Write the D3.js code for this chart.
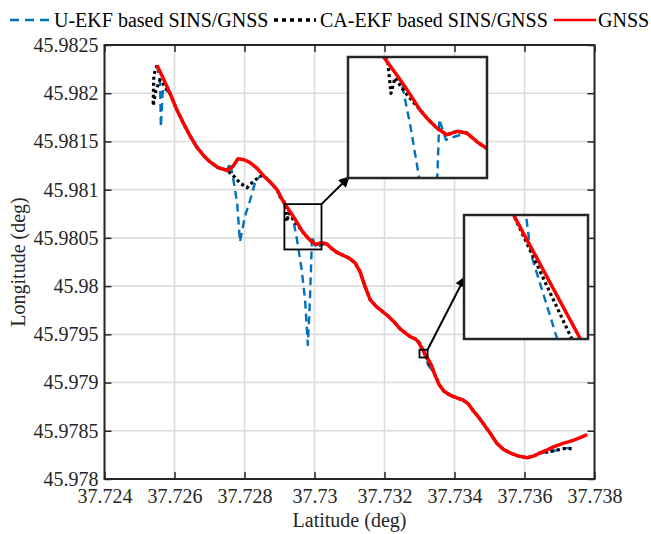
<!DOCTYPE html>
<html>
<head>
<meta charset="utf-8">
<script src="https://cdn.jsdelivr.net/npm/d3@7/dist/d3.min.js"></script>
<style>
  body { margin: 0; background: #fff; }
</style>
</head>
<body>
<div id="wrapper"></div>
<script>
// Valores dos eixos
const xTicks = [37.724, 37.726, 37.728, 37.73, 37.732, 37.734, 37.736, 37.738];
const xLabels = ["37.724", "37.726", "37.728", "37.73", "37.732", "37.734", "37.736", "37.738"];
const yTicks = [45.978, 45.9785, 45.979, 45.9795, 45.98, 45.9805, 45.981, 45.9815, 45.982, 45.9825];
const yLabels = ["45.978", "45.9785", "45.979", "45.9795", "45.98", "45.9805", "45.981", "45.9815", "45.982", "45.9825"];

// Trajetórias [latitude, longitude]
const gnss = [
  [37.72550, 45.98229], [37.72567, 45.98216], [37.72587, 45.98200], [37.72604, 45.98185], [37.72624, 45.98170],
  [37.72644, 45.98156], [37.72664, 45.98144], [37.72684, 45.98135], [37.72701, 45.98129], [37.72724, 45.98123],
  [37.72750, 45.98120], [37.72767, 45.98124], [37.72781, 45.98132], [37.72799, 45.98131], [37.72816, 45.98128],
  [37.72836, 45.98122], [37.72853, 45.98115], [37.72873, 45.98108], [37.72893, 45.98100], [37.72910, 45.98088],
  [37.72927, 45.98079], [37.72945, 45.98069], [37.72965, 45.98057], [37.72976, 45.98052], [37.72989, 45.98047],
  [37.73004, 45.98043], [37.73019, 45.98045], [37.73034, 45.98044], [37.73049, 45.98039], [37.73064, 45.98035],
  [37.73081, 45.98032], [37.73099, 45.98029], [37.73116, 45.98024], [37.73130, 45.98015], [37.73144, 45.98000],
  [37.73159, 45.97986], [37.73176, 45.97979], [37.73193, 45.97974], [37.73210, 45.97969], [37.73227, 45.97963],
  [37.73244, 45.97956], [37.73261, 45.97951], [37.73276, 45.97947], [37.73289, 45.97945], [37.732968, 45.97942],
  [37.733092, 45.97934], [37.733216, 45.97926], [37.73334, 45.97918], [37.73344, 45.97908], [37.73356, 45.97898],
  [37.73370, 45.97891], [37.73387, 45.97887], [37.73407, 45.97884], [37.73424, 45.97882], [37.73439, 45.97878],
  [37.73453, 45.97871], [37.73467, 45.97865], [37.73481, 45.97858], [37.73501, 45.97848], [37.73521, 45.97837],
  [37.73539, 45.97831], [37.73559, 45.97827], [37.73581, 45.97824], [37.73607, 45.97822], [37.73627, 45.97824],
  [37.73644, 45.97827], [37.73664, 45.97830], [37.73681, 45.97833], [37.73710, 45.97837], [37.73739, 45.97840],
  [37.73759, 45.97843], [37.73779, 45.97846]
];

const caEkf = [
  [37.72550, 45.98229], [37.72541, 45.98219], [37.72539, 45.98187], [37.72547, 45.98203], [37.72559, 45.98214],
  [37.72587, 45.98200], [37.72604, 45.98185], [37.72624, 45.98170], [37.72644, 45.98156], [37.72664, 45.98144],
  [37.72684, 45.98135], [37.72701, 45.98129], [37.72724, 45.98123], [37.72750, 45.98120], [37.72767, 45.98115],
  [37.72787, 45.98107], [37.72807, 45.98102], [37.72824, 45.98108], [37.72841, 45.98113], [37.72853, 45.98115],
  [37.72873, 45.98108], [37.72893, 45.98100], [37.72901, 45.98093], [37.72916, 45.98086], [37.72921, 45.98067],
  [37.72927, 45.98076], [37.72941, 45.98068], [37.72965, 45.98057], [37.72976, 45.98052], [37.72989, 45.98047],
  [37.73004, 45.98043], [37.73019, 45.98045], [37.73034, 45.98044], [37.73049, 45.98039], [37.73064, 45.98035],
  [37.73081, 45.98032], [37.73099, 45.98029], [37.73116, 45.98024], [37.73130, 45.98015], [37.73144, 45.98000],
  [37.73159, 45.97986], [37.73176, 45.97979], [37.73193, 45.97974], [37.73210, 45.97969], [37.73227, 45.97963],
  [37.73244, 45.97956], [37.73261, 45.97951], [37.73276, 45.97947], [37.73289, 45.97945], [37.732968, 45.97942],
  [37.733092, 45.97934], [37.733200, 45.97926], [37.733308, 45.97918], [37.73344, 45.97908], [37.73356, 45.97898],
  [37.73370, 45.97891], [37.73387, 45.97887], [37.73407, 45.97884], [37.73424, 45.97882], [37.73439, 45.97878],
  [37.73453, 45.97871], [37.73467, 45.97865], [37.73481, 45.97858], [37.73501, 45.97848], [37.73521, 45.97837],
  [37.73539, 45.97831], [37.73559, 45.97827], [37.73581, 45.97824], [37.73607, 45.97822], [37.73627, 45.97824],
  [37.73644, 45.97827], [37.73667, 45.97828], [37.73693, 45.97830], [37.73719, 45.97832], [37.73741, 45.97831]
];

const uEkf = [
  [37.72550, 45.98229], [37.72559, 45.98209], [37.72561, 45.98165], [37.72567, 45.98206], [37.72587, 45.98200],
  [37.72604, 45.98185], [37.72624, 45.98170], [37.72644, 45.98156], [37.72664, 45.98144], [37.72684, 45.98135],
  [37.72701, 45.98129], [37.72724, 45.98123], [37.72750, 45.98120], [37.72759, 45.98128], [37.72767, 45.98113],
  [37.72779, 45.98086], [37.72787, 45.98046], [37.72801, 45.98072], [37.72816, 45.98089], [37.72830, 45.98107],
  [37.72844, 45.98114], [37.72853, 45.98115], [37.72873, 45.98108], [37.72893, 45.98100], [37.72910, 45.98088],
  [37.72927, 45.98079], [37.72937, 45.98073], [37.72950, 45.98048], [37.72963, 45.98018], [37.72973, 45.97986],
  [37.72981, 45.97939], [37.72987, 45.97986], [37.72990, 45.98019], [37.72993, 45.98052], [37.73003, 45.98040],
  [37.73016, 45.98042], [37.73034, 45.98044], [37.73049, 45.98039], [37.73064, 45.98035], [37.73081, 45.98032],
  [37.73099, 45.98029], [37.73116, 45.98024], [37.73130, 45.98015], [37.73144, 45.98000], [37.73159, 45.97986],
  [37.73176, 45.97979], [37.73193, 45.97974], [37.73210, 45.97969], [37.73227, 45.97963], [37.73244, 45.97956],
  [37.73261, 45.97951], [37.73276, 45.97947], [37.73289, 45.97945], [37.732995, 45.97942], [37.733115, 45.97934],
  [37.733124, 45.979315], [37.733173, 45.97926], [37.73325, 45.97918], [37.73344, 45.97908], [37.73356, 45.97898],
  [37.73370, 45.97891], [37.73387, 45.97887], [37.73407, 45.97884], [37.73424, 45.97882], [37.73439, 45.97878],
  [37.73453, 45.97871], [37.73467, 45.97865], [37.73481, 45.97858], [37.73501, 45.97848], [37.73521, 45.97837],
  [37.73539, 45.97831], [37.73559, 45.97827], [37.73581, 45.97824], [37.73607, 45.97822], [37.73627, 45.97824],
  [37.73644, 45.97827], [37.73667, 45.97828], [37.73693, 45.97830], [37.73719, 45.97832], [37.73741, 45.97832]
];

// Regiões ampliadas (latitude, longitude)
const zoom1Lat = [37.72857, 37.73064], zoom1Lon = [45.98018, 45.98088];
const rect1Lat = [37.72914, 37.7302], rect1Lon = [45.98038, 45.98085];
const zoom2Lat = [37.73300, 37.73323], zoom2Lon = [45.97926, 45.97934];

const legendNames = ["U-EKF based SINS/GNSS", "CA-EKF based SINS/GNSS", "GNSS"];

// Configuração do desenho
const dimensions = { width: 651, height: 534, left: 104.5, right: 594.5, top: 45, bottom: 479 };
const axisColor = "#262626";
const fontSize = 20;
const serif = "'Liberation Serif', 'Times New Roman', serif";

const svg = d3.select("#wrapper").append("svg")
  .attr("width", dimensions.width)
  .attr("height", dimensions.height)
  .attr("font-family", serif);

const x = d3.scaleLinear().domain([37.724, 37.738]).range([dimensions.left, dimensions.right]);
const y = d3.scaleLinear().domain([45.978, 45.9825]).range([dimensions.bottom, dimensions.top]);

// Grade
const grid = svg.append("g");
grid.selectAll(".gx").data(xTicks).join("line")
  .attr("x1", d => x(d)).attr("x2", d => x(d))
  .attr("y1", dimensions.top).attr("y2", dimensions.bottom)
  .attr("stroke", "#dcdcdc").attr("stroke-width", 1.6);
grid.selectAll(".gy").data(yTicks).join("line")
  .attr("x1", dimensions.left).attr("x2", dimensions.right)
  .attr("y1", d => y(d)).attr("y2", d => y(d))
  .attr("stroke", "#dcdcdc").attr("stroke-width", 1.6);

// Séries
const styles = [
  { data: uEkf, color: "#0072BD", width: 2.4, dash: "8,5" },
  { data: caEkf, color: "#000000", width: 3.2, dash: "3,3" },
  { data: gnss, color: "#ff0000", width: 3.5, dash: null }
];

const drawSeries = (g, sx, sy) => {
  const line = d3.line().x(d => sx(d[0])).y(d => sy(d[1]));
  styles.forEach(s => {
    g.append("path")
      .attr("d", line(s.data))
      .attr("fill", "none")
      .attr("stroke", s.color)
      .attr("stroke-width", s.width)
      .attr("stroke-dasharray", s.dash)
      .attr("stroke-linejoin", "round");
  });
};

svg.append("clipPath").attr("id", "clipMain").append("rect")
  .attr("x", dimensions.left).attr("y", dimensions.top)
  .attr("width", dimensions.right - dimensions.left).attr("height", dimensions.bottom - dimensions.top);
drawSeries(svg.append("g").attr("clip-path", "url(#clipMain)"), x, y);

// Eixos
const bottomAxis = d3.axisBottom(x).tickValues(xTicks).tickFormat((d, i) => xLabels[i])
  .tickSizeInner(-7).tickSizeOuter(0).tickPadding(10);
const leftAxis = d3.axisLeft(y).tickValues(yTicks).tickFormat((d, i) => yLabels[i])
  .tickSizeInner(-7).tickSizeOuter(0).tickPadding(6);
const topAxis = d3.axisTop(x).tickValues(xTicks).tickFormat("").tickSizeInner(-7).tickSizeOuter(0);
const rightAxis = d3.axisRight(y).tickValues(yTicks).tickFormat("").tickSizeInner(-7).tickSizeOuter(0);

const axes = [
  [bottomAxis, `translate(0,${dimensions.bottom})`],
  [leftAxis, `translate(${dimensions.left},0)`],
  [topAxis, `translate(0,${dimensions.top})`],
  [rightAxis, `translate(${dimensions.right},0)`]
];
axes.forEach(([ax, tr]) => {
  const g = svg.append("g").attr("transform", tr).call(ax)
    .attr("font-family", serif).attr("font-size", fontSize);
  g.select(".domain").remove();
  g.selectAll(".tick line").attr("stroke", axisColor).attr("stroke-width", 1.5);
  g.selectAll(".tick text").attr("fill", axisColor);
});

svg.append("rect")
  .attr("x", dimensions.left).attr("y", dimensions.top)
  .attr("width", dimensions.right - dimensions.left).attr("height", dimensions.bottom - dimensions.top)
  .attr("fill", "none").attr("stroke", axisColor).attr("stroke-width", 2);

// Rótulos
svg.append("text")
  .attr("x", (dimensions.left + dimensions.right) / 2).attr("y", 527)
  .attr("text-anchor", "middle").attr("fill", axisColor).attr("font-size", fontSize)
  .text("Latitude (deg)");
svg.append("text")
  .attr("transform", `translate(25,${(dimensions.top + dimensions.bottom) / 2}) rotate(-90)`)
  .attr("text-anchor", "middle").attr("fill", axisColor).attr("font-size", fontSize)
  .text("Longitude (deg)");

// Retângulos de origem e janelas ampliadas
const defs = svg.append("defs");
defs.append("marker").attr("id", "arrow").attr("viewBox", "0 0 10 10")
  .attr("refX", 9).attr("refY", 5).attr("markerWidth", 7).attr("markerHeight", 5.5)
  .attr("orient", "auto")
  .append("path").attr("d", "M0,0 L10,5 L0,10 z").attr("fill", "#000");

const drawInset = (id, box, latDom, lonDom, rectLat, rectLon, target) => {
  // retângulo de origem
  svg.append("rect")
    .attr("x", x(rectLat[0])).attr("y", y(rectLon[1]))
    .attr("width", x(rectLat[1]) - x(rectLat[0])).attr("height", y(rectLon[0]) - y(rectLon[1]))
    .attr("fill", "none").attr("stroke", "#000").attr("stroke-width", 1.8);
  // seta
  svg.append("line")
    .attr("x1", x(rectLat[1])).attr("y1", y(rectLon[1]))
    .attr("x2", target[0]).attr("y2", target[1])
    .attr("stroke", "#000").attr("stroke-width", 2)
    .attr("marker-end", "url(#arrow)");
  // janela
  const sx = d3.scaleLinear().domain(latDom).range([box.x, box.x + box.w]);
  const sy = d3.scaleLinear().domain(lonDom).range([box.y + box.h, box.y]);
  svg.append("rect").attr("x", box.x).attr("y", box.y).attr("width", box.w).attr("height", box.h)
    .attr("fill", "#fff");
  defs.append("clipPath").attr("id", id).append("rect")
    .attr("x", box.x).attr("y", box.y).attr("width", box.w).attr("height", box.h);
  drawSeries(svg.append("g").attr("clip-path", `url(#${id})`), sx, sy);
  svg.append("rect").attr("x", box.x).attr("y", box.y).attr("width", box.w).attr("height", box.h)
    .attr("fill", "none").attr("stroke", axisColor).attr("stroke-width", 2.5);
};

const inset1 = { x: 348, y: 57, w: 139, h: 121 };
const inset2 = { x: 464, y: 215, w: 124, h: 124 };
drawInset("clipZoom1", inset1, zoom1Lat, zoom1Lon, rect1Lat, rect1Lon, [inset1.x + 1, inset1.y + inset1.h - 1]);
drawInset("clipZoom2", inset2, zoom2Lat, zoom2Lon, zoom2Lat, zoom2Lon, [inset2.x + 1, inset2.y + inset2.h / 2]);

// Legenda
const legend = svg.append("g");
const legendPos = [
  { x1: 10, x2: 52, tx: 54 },
  { x1: 274, x2: 316, tx: 320 },
  { x1: 554, x2: 596, tx: 598 }
];
styles.forEach((s, i) => {
  const p = legendPos[i];
  legend.append("line")
    .attr("x1", p.x1).attr("x2", p.x2).attr("y1", 20).attr("y2", 20)
    .attr("stroke", s.color).attr("stroke-width", i === 1 ? 3.5 : 2.6)
    .attr("stroke-dasharray", i === 0 ? "9,6" : (i === 1 ? "4,4" : null));
  legend.append("text")
    .attr("x", p.tx).attr("y", 27)
    .attr("fill", "#000").attr("font-size", fontSize)
    .text(legendNames[i]);
});
</script>
</body>
</html>
